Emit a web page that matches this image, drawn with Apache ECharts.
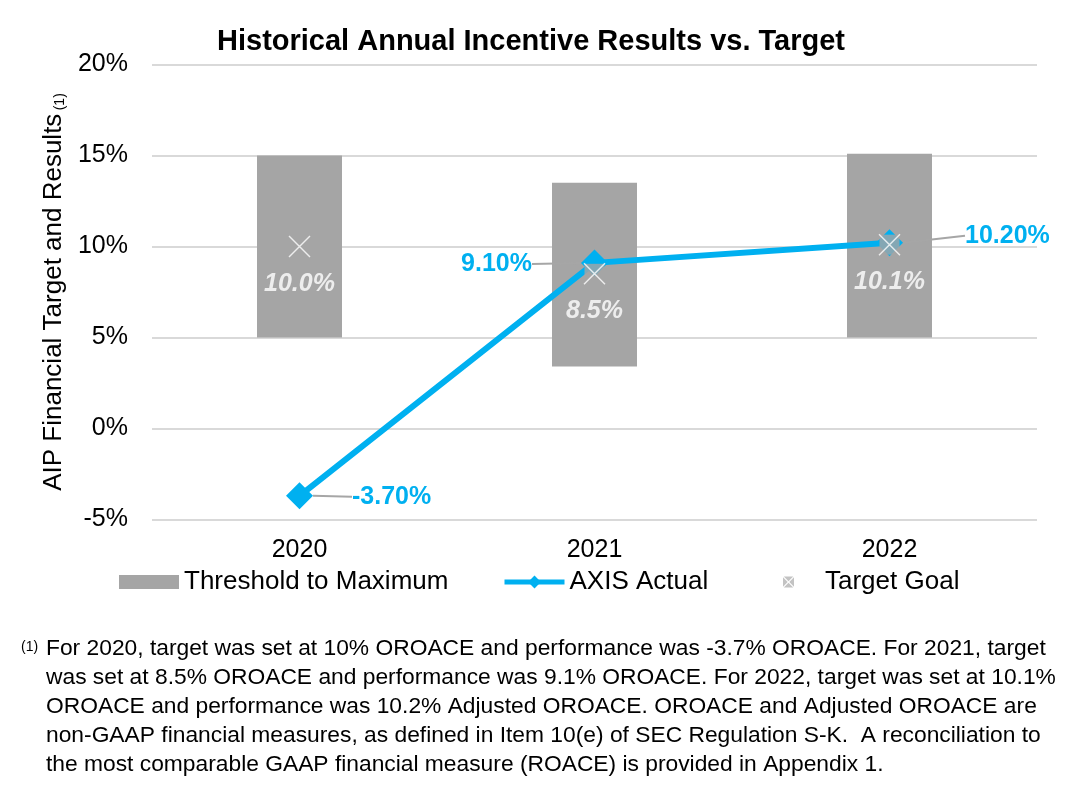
<!DOCTYPE html>
<html>
<head>
<meta charset="utf-8">
<script src="https://cdn.jsdelivr.net/npm/echarts@6/dist/echarts.min.js"></script>
<style>
html,body{margin:0;padding:0;background:#fff;}
#c{width:1086px;height:809px;}
</style>
</head>
<body>
<div id="c"></div>
<script>
// ---- data ----
const years = ['2020', '2021', '2022'];
const thresholdLow = [5.0, 3.4, 5.0];
const maximumHigh = [15.0, 13.5, 15.1];
const axisActual = [-3.7, 9.1, 10.2];
const targetGoal = [10.0, 8.5, 10.1];
const yMin = -5, yMax = 20, yStep = 5;
const titleText = 'Historical Annual Incentive Results vs. Target';
const yAxisTitle = 'AIP Financial Target and Results';
const footnoteMark = '(1)';
const footnoteLines = [
  'For 2020, target was set at 10% OROACE and performance was -3.7% OROACE. For 2021, target',
  'was set at 8.5% OROACE and performance was 9.1% OROACE. For 2022, target was set at 10.1%',
  'OROACE and performance was 10.2% Adjusted OROACE. OROACE and Adjusted OROACE are',
  'non-GAAP financial measures, as defined in Item 10(e) of SEC Regulation S-K.  A reconciliation to',
  'the most comparable GAAP financial measure (ROACE) is provided in Appendix 1.'
];

const FONT = '"Liberation Sans", Arial, sans-serif';
const BLUE = '#00B0F0';
const GREY = '#A5A5A5';
const band = maximumHigh.map((v, i) => +(v - thresholdLow[i]).toFixed(2));

// label offsets for the actual line labels (style only)
const actualLabelPos = ['right', 'left', 'right'];
const actualLabelShift = [[34, 1], [-44, 1], [57, -7]];

const xPath = 'path://M0,1 L1,0 L22,21 L21,22 Z M21,0 L22,1 L1,22 L0,21 Z';
const boxIcon = 'path://M1.5,0 L18.5,0 L10,8.5 Z M1.5,20 L18.5,20 L10,11.5 Z M0,1.5 L0,18.5 L8.5,10 Z M20,1.5 L20,18.5 L11.5,10 Z';

const chart = echarts.init(document.getElementById('c'), null, {renderer: 'canvas'});
chart.setOption({
  animation: false,
  backgroundColor: '#fff',
  textStyle: {fontFamily: FONT},
  title: {
    text: titleText,
    left: 526, top: 22, textAlign: 'center',
    textStyle: {fontSize: 29, fontWeight: 'bold', color: '#000', fontFamily: FONT}
  },
  legend: [
    {
      data: ['Threshold to Maximum'],
      left: 119, top: 569, padding: 0, itemWidth: 60, itemHeight: 14,
      textStyle: {fontSize: 26, color: '#000', fontFamily: FONT},
      icon: 'rect'
    },
    {
      data: [{name: 'AXIS Actual', lineStyle: {width: 5}}],
      left: 502, top: 569, padding: 0, itemWidth: 60, itemHeight: 16,
      textStyle: {fontSize: 26, color: '#000', fontFamily: FONT}
    },
    {
      data: [{name: 'Target Goal', icon: boxIcon, itemStyle: {color: '#B4B4B4'}}],
      left: 783, top: 569, padding: 0, itemWidth: 11, itemHeight: 14,
      textStyle: {fontSize: 26, color: '#000', fontFamily: FONT, padding: [0, 0, 0, 26]}
    }
  ],
  grid: {left: 152, right: 49, top: 64.5, bottom: 289.5},
  xAxis: {
    type: 'category',
    data: years,
    axisLine: {show: false},
    axisTick: {show: false},
    axisLabel: {fontSize: 25, color: '#000', margin: 18, fontFamily: FONT}
  },
  yAxis: {
    type: 'value',
    min: yMin, max: yMax, interval: yStep,
    axisLine: {show: false},
    axisTick: {show: false},
    axisLabel: {fontSize: 25, color: '#000', margin: 24, formatter: '{value}%', fontFamily: FONT},
    splitLine: {lineStyle: {color: '#D9D9D9', width: 2}},
    name: '{m|' + yAxisTitle + '} {s|' + footnoteMark + '}',
    nameLocation: 'middle',
    nameGap: 82,
    nameTextStyle: {
      color: '#000',
      rich: {
        m: {fontSize: 26, color: '#000', fontFamily: FONT},
        s: {fontSize: 14, color: '#000', fontFamily: FONT, verticalAlign: 'bottom'}
      }
    }
  },
  series: [
    {
      type: 'bar', name: 'base', stack: 'range',
      data: thresholdLow, barWidth: 85,
      itemStyle: {color: 'transparent'},
      silent: true, z: 2
    },
    {
      type: 'bar', name: 'Threshold to Maximum', stack: 'range',
      data: band, barWidth: 85,
      itemStyle: {color: GREY},
      z: 2
    },
    {
      type: 'line', name: 'AXIS Actual',
      data: axisActual.map((v, i) => ({
        value: v,
        label: {position: actualLabelPos[i]}
      })),
      symbol: 'diamond', symbolSize: 27,
      lineStyle: {color: BLUE, width: 6},
      itemStyle: {color: BLUE},
      z: 3,
      label: {
        show: true,
        formatter: p => p.value.toFixed(2) + '%',
        fontSize: 25, fontWeight: 'bold', color: BLUE, fontFamily: FONT
      },
      labelLine: {show: true, lineStyle: {color: '#A6A6A6', width: 2}},
      labelLayout: p => ({dx: actualLabelShift[p.dataIndex][0], dy: actualLabelShift[p.dataIndex][1]})
    },
    {
      type: 'scatter', name: 'Target Goal',
      data: targetGoal,
      symbol: 'rect', symbolSize: 20,
      itemStyle: {color: GREY},
      z: 4
    },
    {
      type: 'scatter', name: 'targetMark',
      data: targetGoal,
      symbol: xPath, symbolSize: 22,
      itemStyle: {color: '#fff'},
      z: 5,
      label: {
        show: true, position: 'bottom', distance: 14,
        formatter: p => p.value.toFixed(1) + '%',
        fontSize: 25, fontWeight: 'bold', fontStyle: 'italic', color: '#fff', fontFamily: FONT
      }
    }
  ],
  graphic: [
    {
      type: 'text', left: 21, top: 640,
      style: {text: footnoteMark, font: '14px ' + FONT, fill: '#000'}
    },
    {
      type: 'text', left: 46, top: 634,
      style: {text: footnoteLines.join('\n'), font: '22.8px ' + FONT, lineHeight: 29, fill: '#000'}
    }
  ]
});
</script>
</body>
</html>
